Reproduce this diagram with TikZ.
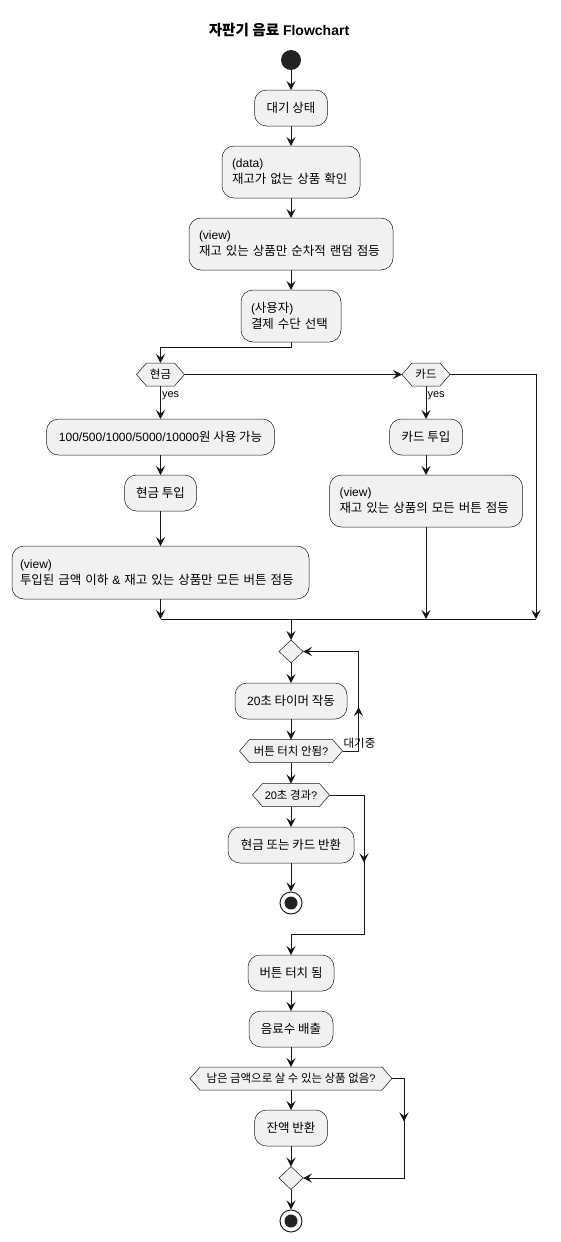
\documentclass[tikz,border=0pt]{standalone}
\usepackage{fontspec}
\setmainfont{Liberation Sans}
\newfontfamily\krfont{Noto Sans CJK KR}[Scale=1.04]
\usetikzlibrary{arrows.meta,shapes.geometric,decorations.markings}

% Korean runs are set in the CJK family
\newcommand\kr[1]{{\krfont #1}}

\definecolor{boxC}{HTML}{F1F1F1}
\definecolor{lineC}{HTML}{181818}
\definecolor{dotC}{HTML}{222222}

% hexagonal decision: name, x, y, half width, text
\newcommand\hexagonnode[5]{%
  \filldraw[hexline] (#2,#3) +(-#4,0) -- +({10-#4},-11.5) -- +({#4-10},-11.5)
    -- +(#4,0) -- +({#4-10},11.5) -- +({10-#4},11.5) -- cycle
    node[hextext, minimum width={2*#4}] (#1) at (#2,#3) {#5};}

\begin{document}
\begin{tikzpicture}[x=1pt,y=-1pt,
  >={Stealth[length=9pt,width=9pt,inset=3.5pt]},
  act/.style={draw=lineC, fill=boxC, line width=0.5pt, rounded corners=12pt,
    inner sep=0pt, outer sep=0pt, minimum height=36pt,
    font=\fontsize{12}{16}\selectfont},
  two/.style={act, align=left, inner xsep=10pt, minimum height=52pt},
  hexline/.style={draw=lineC, fill=boxC, line width=0.5pt},
  hextext/.style={inner sep=0pt, outer sep=0pt, minimum height=23pt,
    font=\fontsize{11}{13}\selectfont},
  merge/.style={diamond, draw=lineC, fill=boxC, line width=0.5pt,
    inner sep=0pt, outer sep=0pt, minimum width=24pt, minimum height=23pt},
  startnode/.style={circle, fill=dotC, inner sep=0pt, minimum size=20pt},
  endnode/.style={circle, draw=dotC, line width=1pt, inner sep=0pt,
    minimum size=22pt, path picture={\fill[dotC]
      (path picture bounding box.center) circle (6.5pt);}},
  flow/.style={draw=lineC, line width=1pt, ->},
  wire/.style={draw=lineC, line width=1pt},
  midarrow/.style={postaction={decorate}, decoration={markings,
    mark=at position #1 with {\arrow{>}}}},
  lbl/.style={inner sep=1pt, font=\fontsize{11}{13}\selectfont}]

\path[use as bounding box] (0,0) rectangle (560,1242);

% heading
\node[font=\fontsize{14}{16}\selectfont\bfseries] (title) at (279,30)
  {\kr{자판기 음료} Flowchart};

% preparation
\node[startnode] (start) at (291,60) {};
\node[act, minimum width=73pt] (s1) at (291,108) {\kr{대기 상태}};
\node[two, text width=118pt] (s2) at (291,172)
  {(data)\\\kr{재고가 없는 상품 확인}};
\node[two, text width=184pt] (s3) at (291,244)
  {(view)\\\kr{재고 있는 상품만 순차적 랜덤 점등}};
\node[two, text width=80pt] (s4) at (291,316)
  {(\kr{사용자})\\\kr{결제 수단 선택}};

% payment choice
\hexagonnode{cash}{160.5}{374.5}{24}{\kr{현금}}
\hexagonnode{card}{426}{374.5}{24}{\kr{카드}}

% cash branch
\node[act, minimum width=228pt] (c1) at (160.5,437)
  {100/500/1000/5000/10000\kr{원 사용 가능}};
\node[act, minimum width=72pt] (c2) at (160.5,493) {\kr{현금 투입}};
\node[two, inner xsep=8pt, text width=281pt, minimum height=53pt] (c3)
  at (160.5,572.5)
  {(view)\\\kr{투입된 금액 이하} \& \kr{재고 있는 상품만 모든 버튼 점등}};

% card branch
\node[act, minimum width=73pt] (k1) at (426,437) {\kr{카드 투입}};
\node[two, text width=173pt] (k2) at (426,501)
  {(view)\\\kr{재고 있는 상품의 모든 버튼 점등}};

\coordinate (mergeR) at (536,619);

% waiting loop
\node[merge] (d1) at (291,651.5) {};
\node[act, minimum width=112pt] (t1) at (291,701) {20\kr{초 타이머 작동}};
\hexagonnode{h1}{291}{751}{51.5}{\kr{버튼 터치 안됨}?}
\hexagonnode{h2}{291}{795}{38.5}{20\kr{초 경과}?}
\node[act, minimum width=126pt] (r1) at (291,845) {\kr{현금 또는 카드 반환}};
\node[endnode] (end1) at (291,903) {};

% dispensing
\node[act, minimum width=86pt] (b1) at (291,973) {\kr{버튼 터치 됨}};
\node[act, minimum width=84pt] (b2) at (291,1029) {\kr{음료수 배출}};
\hexagonnode{h3}{291}{1078.5}{101}{\kr{남은 금액으로 살 수 있는 상품 없음}?}
\node[act, minimum width=73pt] (b3) at (291,1128) {\kr{잔액 반환}};
\node[merge] (d2) at (291,1178) {};
\node[endnode] (end2) at (291,1221) {};

% connectors
\draw[flow] (start) -- (s1);
\draw[flow] (s1) -- (s2);
\draw[flow] (s2) -- (s3);
\draw[flow] (s3) -- (s4);
\draw[flow] (s4.south) -- ++(0,5) -| (cash.north);
\draw[flow] (cash.east) -- (card.west);
\draw[flow] (card.east) -| (mergeR);

\draw[flow] (cash.south) -- (c1.north)
  node[lbl, pos=0.3, anchor=west] (yes1) {yes};
\draw[flow] (c1) -- (c2);
\draw[flow] (c2) -- (c3);
\draw[flow] (card.south) -- (k1.north)
  node[lbl, pos=0.3, anchor=west] (yes2) {yes};
\draw[flow] (k1) -- (k2);

\coordinate (mergeL) at (c3.south |- mergeR);
\draw[flow] (c3.south) -- (mergeL);
\draw[flow] (k2.south) -- (k2.south |- mergeR);
\draw[wire] (mergeL) -- (mergeR);
\draw[flow] (d1 |- mergeR) -- (d1.north);

\draw[flow] (d1) -- (t1);
\draw[flow] (t1) -- (h1.north);
\draw[flow, midarrow=60pt] (h1.east) -- ++(16,0) |- (d1.east);
\node[lbl, anchor=south west] (wait) at ([yshift=1pt]h1.east) {\kr{대기중}};
\draw[flow] (h1.south) -- (h2.north);
\draw[flow] (h2.south) -- (r1.north);
\draw[flow] (r1) -- (end1);

\coordinate (jn) at (364,934);
\draw[flow, midarrow=102pt] (h2.east) -| (jn) -- (jn -| b1) -- (b1.north);

\draw[flow] (b1) -- (b2);
\draw[flow] (b2) -- (h3.north);
\draw[flow] (h3.south) -- (b3.north);
\draw[flow, midarrow=55pt] (h3.east) -- ++(12,0) |- (d2.east);
\draw[flow] (b3) -- (d2);
\draw[flow] (d2) -- (end2);
\end{tikzpicture}
\end{document}
